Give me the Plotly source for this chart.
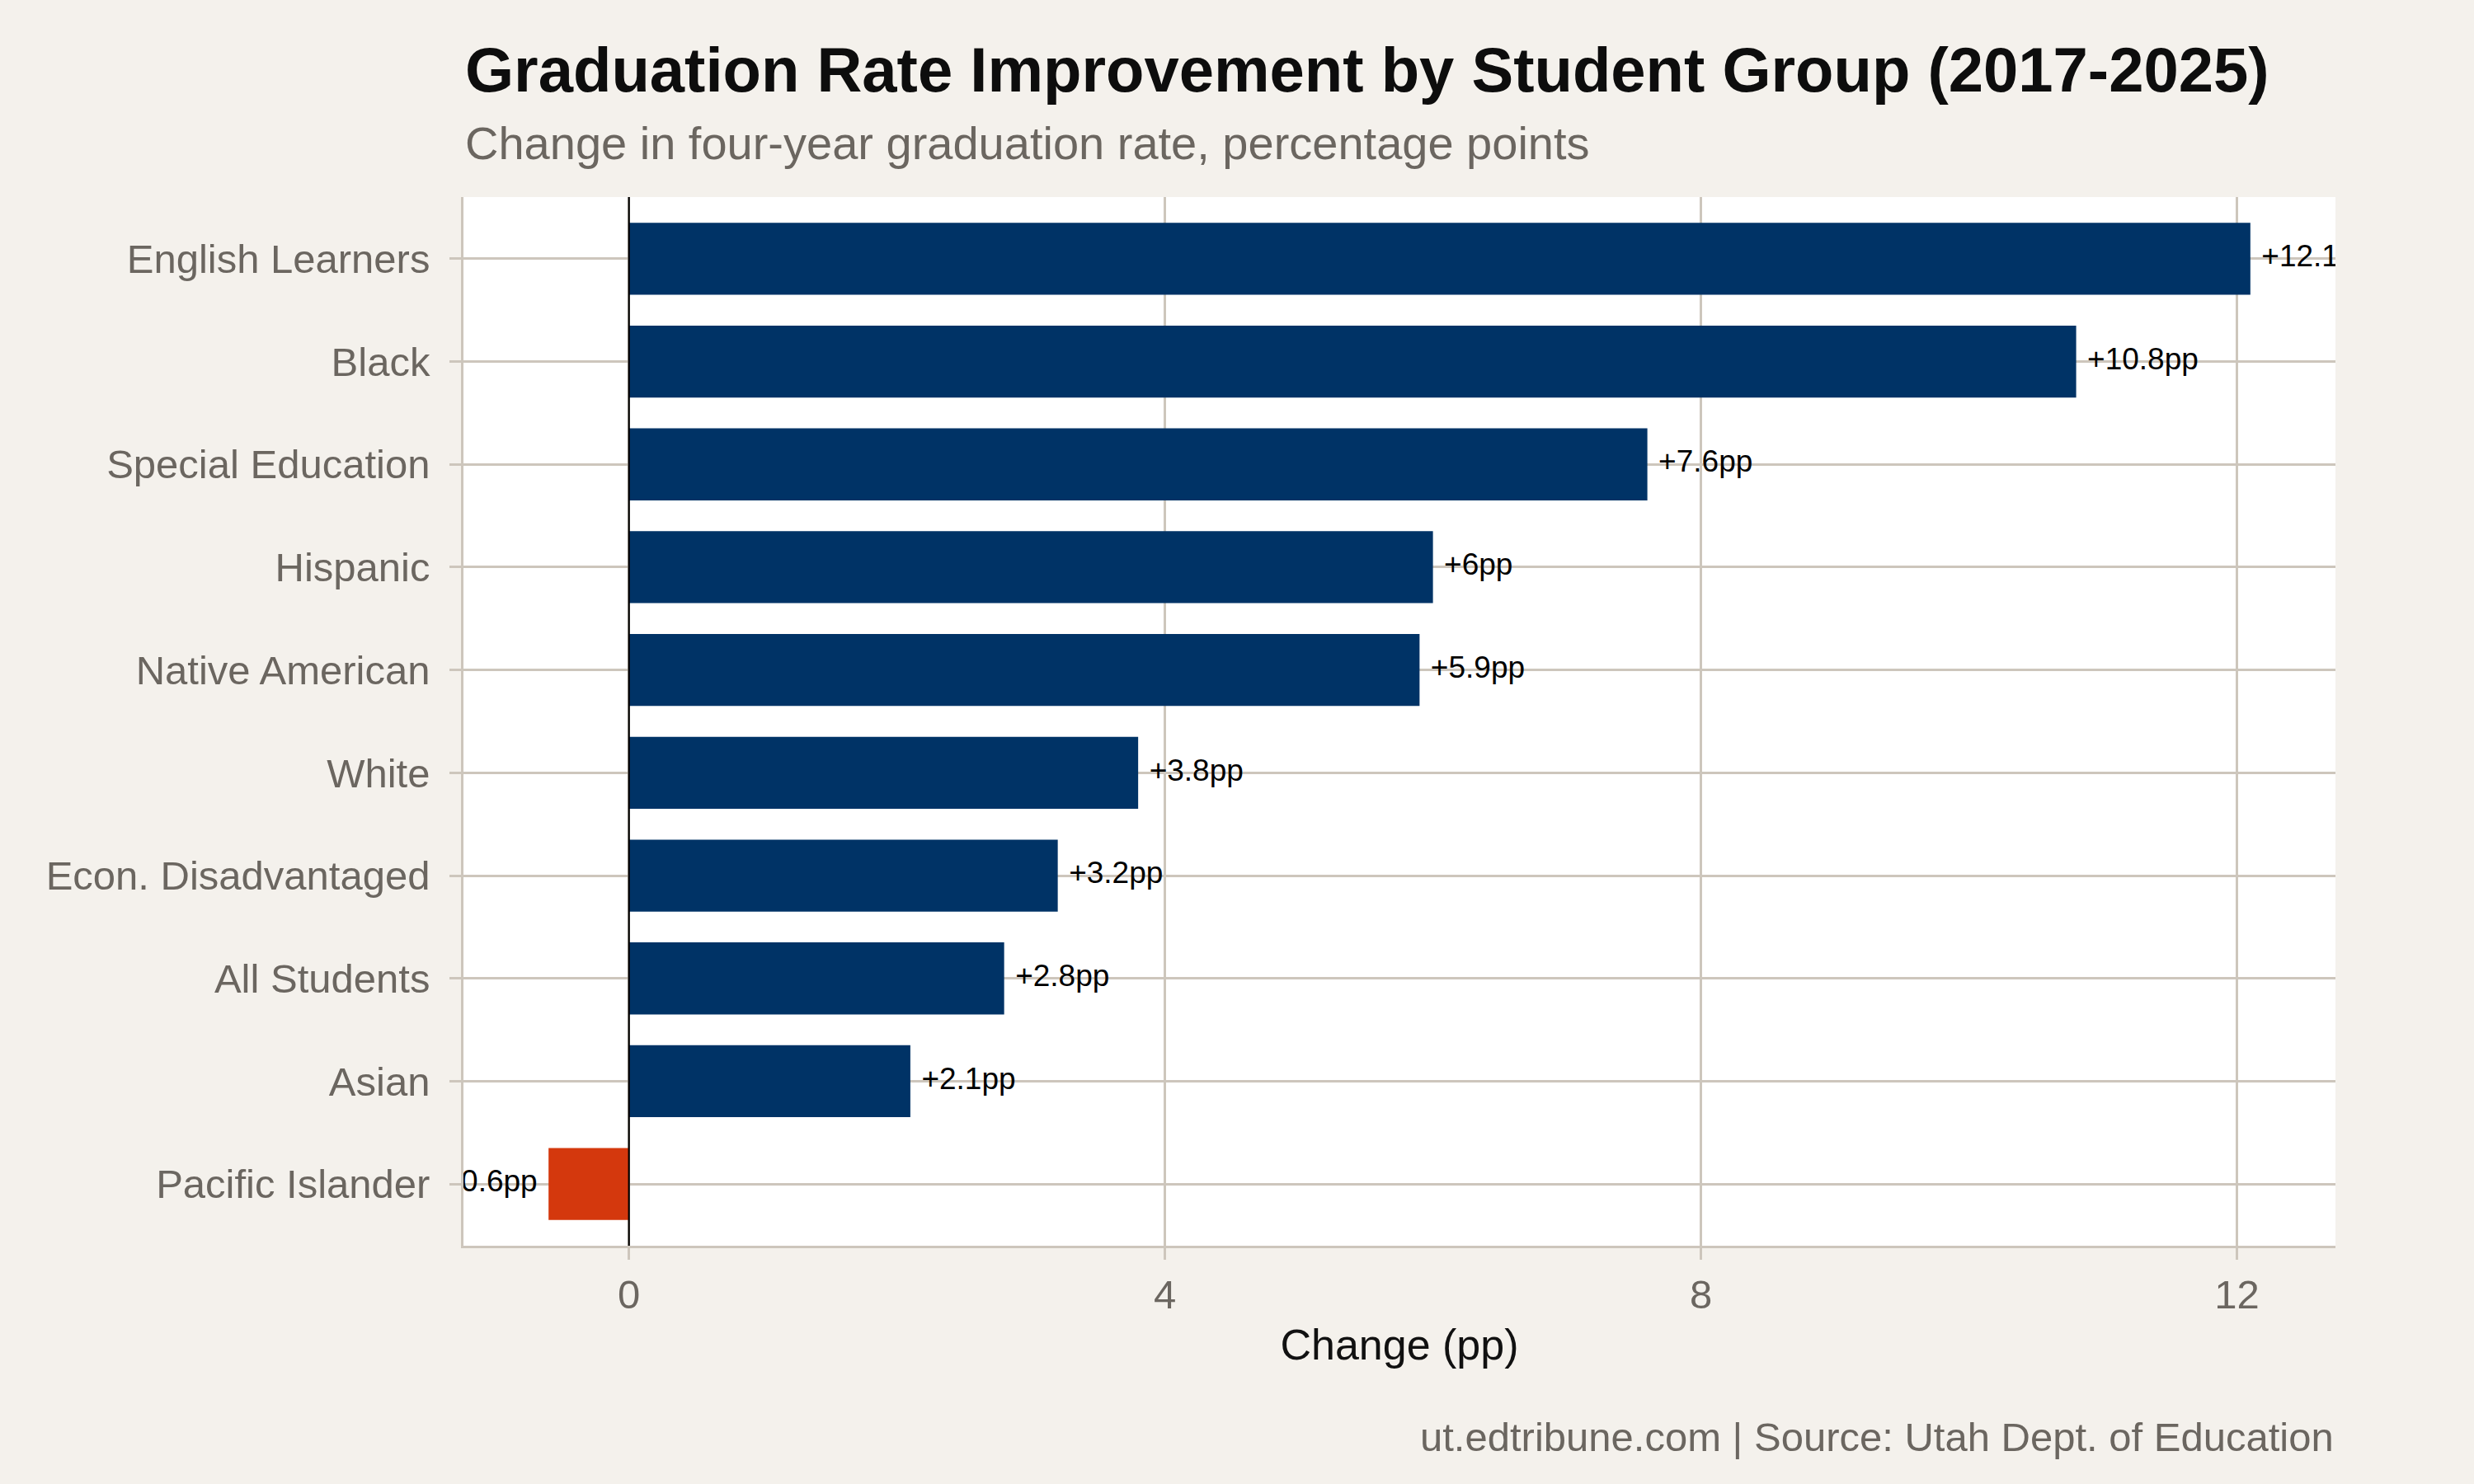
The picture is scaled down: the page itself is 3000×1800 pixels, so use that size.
import plotly.graph_objects as go

# data (top to bottom)
groups = [
    "English Learners", "Black", "Special Education", "Hispanic",
    "Native American", "White", "Econ. Disadvantaged", "All Students",
    "Asian", "Pacific Islander",
]
change_pp = [12.1, 10.8, 7.6, 6.0, 5.9, 3.8, 3.2, 2.8, 2.1, -0.6]
value_labels = ["+12.1pp", "+10.8pp", "+7.6pp", "+6pp", "+5.9pp",
                "+3.8pp", "+3.2pp", "+2.8pp", "+2.1pp", "-0.6pp"]
x_ticks = [0, 4, 8, 12]

NAVY = "#003366"
RED = "#D4380D"
BG = "#F4F1EC"
GRID = "#CDC6BC"
GREY_TXT = "#6B6660"
FONT = "Liberation Sans, Arial, Helvetica, sans-serif"

W, H = 3000, 1800
M_L, M_R, M_T, M_B = 562, 168, 239, 289
plot_h = H - M_T - M_B


def py(px):
    # pixel row -> paper y
    return (H - M_B - px) / plot_h


bar_colors = [NAVY if v >= 0 else RED for v in change_pp]

# ggplot-style 5% expansion on the value axis
lo, hi = min(change_pp), max(change_pp)
pad = 0.05 * (hi - lo)
x_range = [lo - pad, hi + pad]

fig = go.Figure()

fig.add_trace(go.Bar(
    x=change_pp, y=groups, orientation="h",
    width=0.7,
    marker=dict(color=bar_colors, line=dict(width=0)),
    hoverinfo="skip",
))

# value labels next to the bar ends (clipped by the plot area like the original)
fig.add_trace(go.Scatter(
    x=change_pp, y=groups,
    mode="markers+text",
    text=value_labels,
    textposition=["middle right" if v >= 0 else "middle left" for v in change_pp],
    textfont=dict(family=FONT, size=37, color="#000000"),
    marker=dict(size=20, opacity=0),
    cliponaxis=True,
    hoverinfo="skip",
))

fig.add_vline(x=0, line_color="#000000", line_width=2.2, layer="above")

axis_common = dict(
    showline=True, linecolor=GRID, linewidth=2.5,
    ticks="outside", ticklen=14, tickwidth=2.5, tickcolor=GRID,
    showgrid=True, gridcolor=GRID, gridwidth=2.5,
    zeroline=False,
    tickfont=dict(family=FONT, size=49, color=GREY_TXT),
    automargin=False,
)

fig.update_xaxes(
    range=x_range, tickvals=x_ticks, ticktext=[str(t) for t in x_ticks],
    title=dict(text="Change (pp)", font=dict(family=FONT, size=52, color="#111111"),
               standoff=18),
    **axis_common,
)
fig.update_yaxes(
    categoryorder="array", categoryarray=groups,
    range=[len(groups) - 0.4, -0.6],
    ticklabelstandoff=14,
    **axis_common,
)

fig.add_annotation(
    text="<b>Graduation Rate Improvement by Student Group (2017-2025)</b>",
    xref="paper", yref="paper", x=0, y=py(40), xanchor="left", yanchor="top",
    showarrow=False, font=dict(family=FONT, size=76, color="#0D0D0D"),
)
fig.add_annotation(
    text="Change in four-year graduation rate, percentage points",
    xref="paper", yref="paper", x=0, y=py(140), xanchor="left", yanchor="top",
    showarrow=False, font=dict(family=FONT, size=56, color=GREY_TXT),
)
fig.add_annotation(
    text="ut.edtribune.com | Source: Utah Dept. of Education",
    xref="paper", yref="paper", x=1, y=py(1714), xanchor="right", yanchor="top",
    showarrow=False, font=dict(family=FONT, size=49, color=GREY_TXT),
)

fig.update_layout(
    width=W, height=H,
    margin=dict(l=M_L, r=M_R, t=M_T, b=M_B),
    paper_bgcolor=BG, plot_bgcolor="#FFFFFF",
    showlegend=False,
    bargap=0.3,
    font=dict(family=FONT),
)

# drop the default page margin so the figure fills the window exactly
fig.write_html(
    "out.html",
    config={"displayModeBar": False},
    post_script="document.body.style.margin='0';",
)
